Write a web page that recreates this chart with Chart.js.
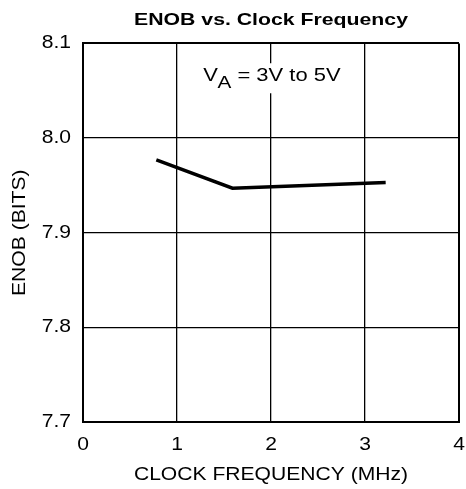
<!DOCTYPE html>
<html>
<head>
<meta charset="utf-8">
<script src="https://cdn.jsdelivr.net/npm/chart.js@4"></script>
<style>
    html, body { margin: 0; padding: 0; background: #fff; }
    #wrap { width: 466px; height: 489px; }
</style>
</head>
<body>
<div id="wrap"><canvas id="chart" width="466" height="489"></canvas></div>
<script>
const freqMHz = [0.78, 1.59, 3.22],
    enobBits = [7.977, 7.947, 7.953],
    xTicks = [0, 1, 2, 3, 4],
    yTicks = [7.7, 7.8, 7.9, 8.0, 8.1],
    noteAt = { x: 1.28, y: 8.06 };

const FONT = "'Liberation Sans', Arial, sans-serif",
    canvas = document.getElementById("chart"),
    ctx2d = canvas.getContext("2d");

// the datasheet lettering is a bit wider than Arial, so stretch text around its anchor
const rawFill = ctx2d.fillText.bind(ctx2d);
ctx2d.fillText = function(text, x, y) {
    const sx = this._sx || (/bold/.test(this.font) ? 1.25 : 1.14);
    this.save();
    this.translate(x, y);
    this.scale(sx, 1);
    rawFill(text, 0, 0);
    this.restore();
};

// supply note, drawn with a white box behind it like the datasheet
const supplyNote = {
    id: "supplyNote",
    afterDraw(chart) {
        const ctx = chart.ctx,
            sx = 1.22,
            x = chart.scales.x.getPixelForValue(noteAt.x),
            y = chart.scales.y.getPixelForValue(noteAt.y);
        ctx.save();
        ctx._sx = sx;
        ctx.fillStyle = "#fff";
        ctx.fillRect(x - 3, y - 18, 146, 30);
        ctx.fillStyle = "#000";
        ctx.textAlign = "left";
        ctx.textBaseline = "alphabetic";
        ctx.font = "18px " + FONT;
        ctx.fillText("V", x, y);
        let cx = x + ctx.measureText("V").width * sx - 0.5;
        ctx.font = "17px " + FONT;
        ctx.fillText("A", cx, y + 6.4);
        cx += ctx.measureText("A").width * sx;
        ctx.font = "18px " + FONT;
        ctx.fillText(" = 3V to 5V", cx, y);
        ctx._sx = 0;
        ctx.restore();
    }
};

function edge(ctx, last) {
    return ctx.index === 0 || ctx.index === last ? 2 : 1.3;
}

new Chart(canvas, {
    type: "line",
    data: {
        datasets: [{
            data: freqMHz.map((f, i) => ({ x: f, y: enobBits[i] })),
            borderColor: "#000",
            borderWidth: 3.4,
            pointRadius: 0,
            tension: 0,
            fill: false
        }]
    },
    options: {
        responsive: false,
        animation: false,
        devicePixelRatio: 1,
        layout: { padding: { left: 0, right: 7, top: 0, bottom: 0 } },
        plugins: {
            legend: { display: false },
            tooltip: { enabled: false },
            title: {
                display: true,
                fullSize: false,
                text: "ENOB vs. Clock Frequency",
                color: "#000",
                font: { family: FONT, size: 17, weight: "bold", lineHeight: 1.2 },
                padding: { top: 10, bottom: 13 }
            }
        },
        scales: {
            x: {
                type: "linear",
                min: xTicks[0],
                max: xTicks[xTicks.length - 1],
                afterBuildTicks: s => { s.ticks = xTicks.map(v => ({ value: v })); },
                afterFit: s => { s.height = 67; s.paddingLeft = 0; s.paddingRight = 0; },
                grid: {
                    color: "#000",
                    lineWidth: c => edge(c, xTicks.length - 1),
                    drawTicks: false
                },
                border: { color: "#000", width: 2 },
                ticks: {
                    color: "#000",
                    padding: 12,
                    font: { family: FONT, size: 18.5 },
                    callback: v => String(v)
                },
                title: {
                    display: true,
                    text: "CLOCK FREQUENCY (MHz)",
                    color: "#000",
                    font: { family: FONT, size: 18.5 },
                    padding: { top: 0, bottom: 3 }
                }
            },
            y: {
                min: yTicks[0],
                max: yTicks[yTicks.length - 1],
                afterBuildTicks: s => { s.ticks = yTicks.map(v => ({ value: v })); },
                afterFit: s => { s.width = 83; s.paddingTop = 0; s.paddingBottom = 0; },
                grid: {
                    color: "#000",
                    lineWidth: c => edge(c, yTicks.length - 1),
                    drawTicks: false
                },
                border: { color: "#000", width: 2 },
                ticks: {
                    color: "#000",
                    padding: 12,
                    font: { family: FONT, size: 18.5 },
                    callback: v => (+v).toFixed(1)
                },
                title: {
                    display: true,
                    text: "ENOB (BITS)",
                    color: "#000",
                    font: { family: FONT, size: 18.5 },
                    padding: { top: 9, bottom: 0 }
                }
            }
        }
    },
    plugins: [supplyNote]
});
</script>
</body>
</html>
